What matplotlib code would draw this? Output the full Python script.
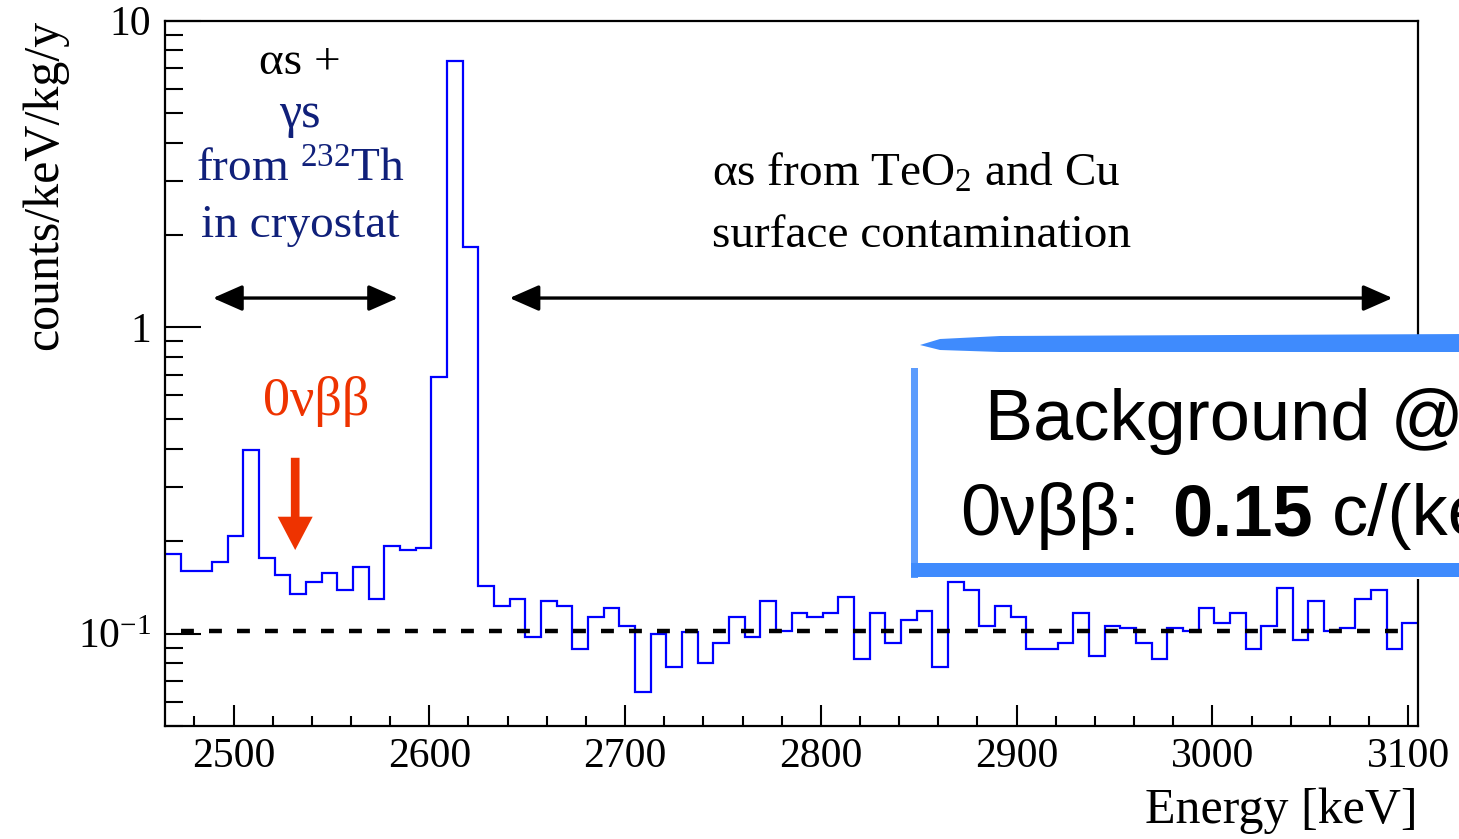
import numpy as np
import matplotlib.pyplot as plt
from matplotlib.patches import Rectangle, Polygon
from matplotlib.ticker import MultipleLocator, LogLocator, NullFormatter, FixedLocator, FixedFormatter

plt.rcParams['font.family'] = ['Liberation Serif', 'DejaVu Serif']
plt.rcParams['mathtext.fontset'] = 'custom'
plt.rcParams['mathtext.rm'] = 'Liberation Serif'
plt.rcParams['mathtext.it'] = 'Liberation Serif:italic'
plt.rcParams['mathtext.default'] = 'rm'

# histogram: 8 keV bins starting at 2465 keV
bin_start = 2465
bin_width = 8
rate = [0.182, 0.160, 0.160, 0.171, 0.208, 0.397, 0.176, 0.156, 0.135, 0.148,
        0.158, 0.139, 0.165, 0.130, 0.193, 0.187, 0.191, 0.69, 7.37, 1.83,
        0.143, 0.123, 0.130, 0.0975, 0.128, 0.123, 0.089, 0.113, 0.1215, 0.106,
        0.0647, 0.0996, 0.0779, 0.1015, 0.080, 0.093, 0.113, 0.0973, 0.128, 0.102,
        0.117, 0.113, 0.117, 0.132, 0.0825, 0.117, 0.093, 0.1107, 0.119, 0.0779,
        0.147, 0.139, 0.106, 0.123, 0.113, 0.089, 0.089, 0.093, 0.117, 0.0846,
        0.106, 0.1042, 0.093, 0.0825, 0.1042, 0.102, 0.1215, 0.1087, 0.117, 0.089,
        0.106, 0.141, 0.0954, 0.128, 0.102, 0.1042, 0.130, 0.139, 0.089, 0.1087]
edges = bin_start + bin_width * np.arange(len(rate) + 1)

flat_level = 0.102
flat_from, flat_to = 2473, 3097

x_ticks = [2500, 2600, 2700, 2800, 2900, 3000, 3100]
y_ticks = [0.1, 1, 10]
y_labels = ['$10^{-1}$', '1', '10']

# annotation ranges (keV) and heights
th_range = (2489.5, 2584)
alpha_range = (2641, 3092)
arrow_y = 1.245
qbb_energy = 2531.5

W, H = 1459, 839
fig = plt.figure(figsize=(W / 100, H / 100), dpi=100)
ax = fig.add_axes([165 / W, 1 - 726 / H, 1253 / W, 705.3 / H])

ax.stairs(rate, edges, baseline=None, color='#0000ff', lw=1.6)
ax.hlines(flat_level, flat_from, flat_to, colors='black', lw=3.2,
          linestyles=(0, (2.9, 3.4)))

ax.set_yscale('log')
ax.set_xlim(2465, 3105)
ax.set_ylim(0.05, 10)

ax.xaxis.set_major_locator(FixedLocator(x_ticks))
ax.xaxis.set_minor_locator(MultipleLocator(20))
ax.yaxis.set_major_locator(FixedLocator(y_ticks))
ax.yaxis.set_major_formatter(FixedFormatter(y_labels))
ax.yaxis.set_minor_locator(LogLocator(base=10, subs=np.arange(2, 10)))
ax.yaxis.set_minor_formatter(NullFormatter())

ax.tick_params(which='both', direction='in', top=False, right=False, width=1.5, labelsize=30)
ax.xaxis.set_tick_params(which='major', length=15, pad=8)
ax.xaxis.set_tick_params(which='minor', length=7.5)
ax.yaxis.set_tick_params(which='major', length=26, pad=10)
ax.yaxis.set_tick_params(which='minor', length=13)
for s in ax.spines.values():
    s.set_linewidth(1.6)

# double arrows
for lo, hi in [th_range, alpha_range]:
    ax.annotate('', xy=(lo, arrow_y), xytext=(hi, arrow_y),
                arrowprops=dict(arrowstyle='<|-|>,head_length=0.5,head_width=0.22',
                                mutation_scale=36, lw=2.4, color='black',
                                shrinkA=0, shrinkB=0))

# red 0vbb arrow
red = '#ee3300'
ax.annotate('', xy=(qbb_energy, 0.1875), xytext=(qbb_energy, 0.375),
            arrowprops=dict(arrowstyle='simple,head_length=1.0,head_width=1.05,tail_width=0.26',
                            mutation_scale=24, color=red, lw=0, shrinkA=0, shrinkB=0))


def fp(x, y):
    return x / W, 1 - y / H


navy = '#10207a'
fs = 34
fig.text(*fp(300, 74), '\u03b1s +', ha='center', va='baseline', fontsize=fs, color='black')
fig.text(*fp(300, 127), '\u03b3s', ha='center', va='baseline', fontsize=fs + 2, color=navy)
fig.text(*fp(300, 182), r'from $^{232}$Th', ha='center', va='baseline', fontsize=fs, color=navy)
fig.text(*fp(300, 237), 'in cryostat', ha='center', va='baseline', fontsize=fs, color=navy)
fig.text(*fp(316, 415), '0\u03bd\u03b2\u03b2', ha='center', va='baseline', fontsize=39, color=red)
fig.text(*fp(712, 186), '\u03b1s from TeO$_2$ and Cu', ha='left', va='baseline', fontsize=fs)
fig.text(*fp(712, 247), 'surface contamination', ha='left', va='baseline', fontsize=fs)

fig.text(*fp(1418, 823), 'Energy [keV]', ha='right', va='baseline', fontsize=36)
fig.text(*fp(45, 20), 'counts/keV/kg/y', rotation=90, ha='center', va='top', fontsize=36)

# highlight box (pixel coordinates overlay); the reference crops it at the right edge
ov = fig.add_axes([0, 0, 1, 1], zorder=10)
ov.set_xlim(0, W)
ov.set_ylim(H, 0)
ov.axis('off')
ov.patch.set_alpha(0)
brush = '#3f8bfd'
ov.add_patch(Rectangle((911, 336), 600, 243, facecolor='white', edgecolor='none'))
ov.add_patch(Polygon([(920, 345), (940, 339), (1000, 336), (1470, 334), (1470, 352),
                      (1000, 352), (940, 350)], closed=True, facecolor=brush, edgecolor='none'))
ov.add_patch(Rectangle((911, 368), 7, 210, facecolor=brush, edgecolor='none', alpha=0.85))
ov.add_patch(Rectangle((911, 563), 600, 14, facecolor=brush, edgecolor='none'))

sans = ['Liberation Sans', 'DejaVu Sans']
ov.text(985, 440, 'Background @ 0\u03bd\u03b2\u03b2', family=sans, fontsize=52, va='baseline', ha='left')
ov.text(960, 535, '0\u03bd\u03b2\u03b2:', family=sans, fontsize=52, va='baseline', ha='left')
ov.text(1172, 535, '0.15', family=sans, fontsize=52, fontweight='bold', va='baseline', ha='left')
ov.text(1332, 535, 'c/(keV\u00b7kg\u00b7y)', family=sans, fontsize=52, va='baseline', ha='left')

fig.savefig('out.png', dpi=100)
